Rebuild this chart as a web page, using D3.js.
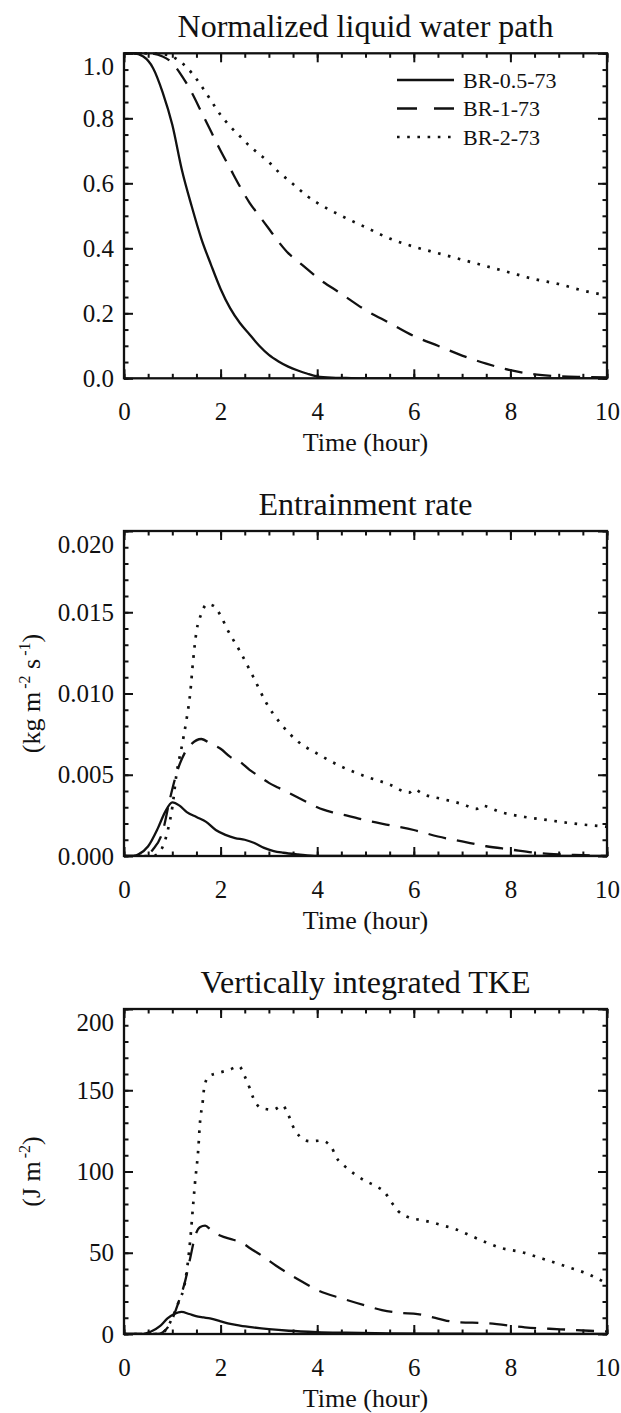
<!DOCTYPE html>
<html>
<head>
<meta charset="utf-8">
<script src="https://cdn.jsdelivr.net/npm/d3@7"></script>
<style>
  html, body { margin: 0; padding: 0; background: #fff; }
  svg { display: block; }
  text { font-family: "Liberation Serif", "Times New Roman", serif; fill: #111; }
</style>
</head>
<body>
<svg id="fig" width="621" height="1413"></svg>
<script>
// ---- Series names ----
const seriesNames = ["BR-0.5-73", "BR-1-73", "BR-2-73"];

// ---- Normalized liquid water path ----
const lwpTime05 = [0, 0.2, 0.4, 0.6, 0.8, 1.0, 1.2, 1.4, 1.6, 1.8, 2.0, 2.2, 2.4, 2.6, 2.8, 3.0, 3.2, 3.4, 3.6, 3.8, 4.0, 4.3, 4.6, 5, 6, 7, 8, 9, 10];
const lwp05     = [1.0, 1.0, 0.99, 0.955, 0.88, 0.78, 0.64, 0.53, 0.43, 0.35, 0.275, 0.215, 0.17, 0.135, 0.10, 0.072, 0.052, 0.036, 0.024, 0.014, 0.006, 0.002, 0.001, 0, 0, 0, 0, 0, 0];
const lwpTime1  = [0, 0.5, 0.8, 1.0, 1.2, 1.4, 1.6, 1.8, 2.0, 2.2, 2.4, 2.6, 2.8, 3.0, 3.2, 3.4, 3.6, 3.8, 4.0, 4.5, 5.0, 5.5, 6.0, 6.5, 7.0, 7.5, 8.0, 8.5, 9.0, 9.5, 10];
const lwp1      = [1.0, 1.0, 0.99, 0.97, 0.93, 0.88, 0.82, 0.76, 0.70, 0.645, 0.59, 0.54, 0.50, 0.46, 0.42, 0.385, 0.36, 0.335, 0.31, 0.26, 0.21, 0.17, 0.13, 0.10, 0.07, 0.045, 0.025, 0.012, 0.006, 0.004, 0.003];
const lwpTime2  = [0, 0.5, 0.9, 1.0, 1.2, 1.4, 1.6, 1.8, 2.0, 2.2, 2.4, 2.6, 2.8, 3.0, 3.2, 3.4, 3.6, 3.8, 4.0, 4.5, 5.0, 5.5, 6.0, 6.5, 7.0, 7.5, 8.0, 8.5, 9.0, 9.5, 10];
const lwp2      = [1.0, 1.0, 0.995, 0.99, 0.97, 0.94, 0.90, 0.855, 0.81, 0.775, 0.745, 0.715, 0.69, 0.665, 0.635, 0.61, 0.585, 0.56, 0.54, 0.50, 0.465, 0.43, 0.405, 0.385, 0.365, 0.345, 0.325, 0.305, 0.29, 0.27, 0.255];

// ---- Entrainment rate (kg m-2 s-1) ----
const entTime05 = [0, 0.2, 0.3, 0.5, 0.7, 0.85, 1.0, 1.15, 1.3, 1.5, 1.7, 1.9, 2.1, 2.3, 2.5, 2.7, 2.9, 3.1, 3.3, 3.6, 4.0, 10];
const ent05     = [0, 0, 0.0001, 0.0006, 0.0017, 0.0027, 0.0033, 0.0031, 0.0027, 0.0024, 0.0021, 0.0016, 0.0013, 0.0011, 0.0010, 0.0008, 0.0005, 0.0003, 0.0002, 0.0001, 0, 0];
const entTime1  = [0, 0.4, 0.6, 0.8, 0.95, 1.1, 1.25, 1.4, 1.6, 1.8, 2.0, 2.2, 2.4, 2.6, 2.8, 3.0, 3.2, 3.4, 3.6, 3.8, 4.0, 4.3, 4.6, 5.0, 5.5, 6.0, 6.5, 7.0, 7.5, 8.0, 8.5, 9.0, 9.5, 10];
const ent1      = [0, 0, 0.0004, 0.0015, 0.0035, 0.0052, 0.0063, 0.0069, 0.0072, 0.0069, 0.0066, 0.0061, 0.0058, 0.0053, 0.0049, 0.0045, 0.0042, 0.0039, 0.0036, 0.0033, 0.0030, 0.0027, 0.0025, 0.0022, 0.0019, 0.0016, 0.0012, 0.0009, 0.0006, 0.0004, 0.0002, 0.0001, 0.00005, 0];
const entTime2  = [0, 0.6, 0.75, 0.9, 1.0, 1.09, 1.2, 1.3, 1.37, 1.43, 1.5, 1.6, 1.72, 1.85, 2.0, 2.13, 2.4, 2.68, 2.95, 3.23, 3.58, 4.0, 4.5, 5.0, 5.5, 5.9, 6.0, 6.2, 6.6, 7.0, 7.3, 7.4, 7.8, 8.3, 8.8, 9.3, 10];
const ent2      = [0, 0, 0.0003, 0.0015, 0.003, 0.0051, 0.0068, 0.0085, 0.0100, 0.0120, 0.0138, 0.0149, 0.0155, 0.0154, 0.0148, 0.0140, 0.0126, 0.0110, 0.0094, 0.0082, 0.0071, 0.0063, 0.0055, 0.0049, 0.0044, 0.0039, 0.0041, 0.0038, 0.0035, 0.0032, 0.0029, 0.0031, 0.0027, 0.0024, 0.0022, 0.0020, 0.0018];

// ---- Vertically integrated TKE (J m-2) ----
const tkeTime05 = [0, 0.4, 0.55, 0.75, 0.9, 1.05, 1.19, 1.35, 1.49, 1.65, 1.78, 2.0, 2.15, 2.4, 2.67, 3.0, 3.41, 4.0, 4.6, 5.5, 7, 10];
const tke05     = [0, 0, 1.4, 5, 9.6, 12.5, 13.6, 12.3, 11, 10.2, 9.6, 7.8, 6.5, 5.2, 4.1, 3.0, 2.0, 1.2, 0.8, 0.4, 0.2, 0];
const tkeTime1  = [0, 0.7, 0.8, 0.95, 1.12, 1.27, 1.38, 1.47, 1.57, 1.68, 1.8, 1.99, 2.26, 2.45, 2.61, 2.9, 3.15, 3.41, 3.7, 4.01, 4.52, 5.0, 5.34, 5.7, 6.08, 6.5, 6.82, 7.56, 8.3, 9.04, 9.63, 10];
const tke1      = [0, 0, 1, 6, 18.8, 33, 48, 60, 65.7, 66.7, 64, 60.6, 58, 56, 52.8, 47.3, 42, 37.1, 32, 26.9, 21.8, 17.5, 14.7, 13, 12.2, 9.5, 7.5, 6.5, 4.1, 2.9, 2.0, 1.5];
const tkeTime2  = [0, 0.75, 0.85, 1.0, 1.12, 1.27, 1.37, 1.43, 1.47, 1.54, 1.57, 1.63, 1.66, 1.75, 1.95, 2.19, 2.38, 2.5, 2.6, 2.68, 2.85, 3.09, 3.28, 3.4, 3.5, 3.64, 3.85, 4.09, 4.3, 4.4, 4.58, 4.78, 4.99, 5.2, 5.4, 5.54, 5.68, 5.89, 6.13, 6.37, 6.61, 6.85, 7.1, 7.49, 7.8, 8.23, 8.67, 9.19, 9.6, 10];
const tke2      = [0, 0, 2, 10, 18.8, 33, 57.5, 79, 93, 114.6, 129, 143, 151.5, 158.5, 160.6, 162.7, 164.8, 158.5, 151.5, 145, 139, 138, 140.7, 135, 127.7, 121.6, 118.6, 119, 114.6, 108.5, 103, 98.3, 94.3, 91.2, 87.1, 81, 75.5, 71.8, 70.2, 68.7, 66.7, 64.7, 61.5, 56.5, 53, 50.4, 46.3, 41.2, 37, 31];

// ---- Axis ticks ----
const xMajor = [0, 2, 4, 6, 8, 10];
const xMinor = d3.range(0, 10.001, 0.5);
const lwpMajor = [0, 0.2, 0.4, 0.6, 0.8, 1.0];
const lwpMinor = d3.range(0, 1.0001, 0.05);
const entMajor = [0, 0.005, 0.010, 0.015, 0.020];
const entMinor = d3.range(0, 0.02001, 0.001);
const tkeMajor = [0, 50, 100, 150, 200];
const tkeMinor = d3.range(0, 200.1, 10);

// ---- Layout ----
const W = 621, H = 1413;
const plotLeft = 124, plotRight = 607, plotH = 325;
const panelTops = [53.3, 531, 1009];
const FONT = '"Liberation Serif", "Times New Roman", serif';
const labelFont = 25, titleFont = 32, legendFont = 22;
const majorLen = 9, minorLen = 4.5;

const styles = [
  { dash: null, width: 2.3 },
  { dash: "18,11", width: 2.3 },
  { dash: "2.6,7.6", width: 2.7 }
];

const svg = d3.select("#fig");
svg.append("rect").attr("width", W).attr("height", H).attr("fill", "#fff");

const x = d3.scaleLinear().domain([0, 10]).range([plotLeft, plotRight]);

const panels = [
  {
    title: "Normalized liquid water path",
    domain: [0, 1.0], major: lwpMajor, minor: lwpMinor, fmt: d3.format(".1f"),
    series: [[lwpTime05, lwp05], [lwpTime1, lwp1], [lwpTime2, lwp2]],
    yTitle: null, legend: true
  },
  {
    title: "Entrainment rate",
    domain: [0, 0.020], major: entMajor, minor: entMinor, fmt: d3.format(".3f"),
    series: [[entTime05, ent05], [entTime1, ent1], [entTime2, ent2]],
    yTitle: [["(kg m", 0], ["-2", 1], [" s", 0], ["-1", 1], [")", 0]], legend: false
  },
  {
    title: "Vertically integrated TKE",
    domain: [0, 200], major: tkeMajor, minor: tkeMinor, fmt: d3.format("d"),
    series: [[tkeTime05, tke05], [tkeTime1, tke1], [tkeTime2, tke2]],
    yTitle: [["(J m", 0], ["-2", 1], [")", 0]], legend: false
  }
];

function styleAxis(g) {
  g.attr("font-family", FONT);
  g.select(".domain").remove();
  g.selectAll("line").attr("stroke", "#111").attr("stroke-width", 2);
  g.selectAll("text").attr("font-size", labelFont).attr("fill", "#111").style("font-family", FONT);
}

panels.forEach((p, i) => {
  const top = panelTops[i], bottom = top + plotH;
  const y = d3.scaleLinear().domain(p.domain).range([bottom, top]);
  const g = svg.append("g").style("font-family", FONT);

  // clip region for the curves
  const clipId = "clip" + i;
  svg.append("clipPath").attr("id", clipId)
    .append("rect").attr("x", plotLeft).attr("y", top - 2)
    .attr("width", plotRight - plotLeft).attr("height", plotH + 2);

  // minor ticks on all four sides
  g.append("g").attr("transform", `translate(0,${bottom})`)
    .call(d3.axisBottom(x).tickValues(xMinor).tickSize(-minorLen).tickFormat("")).call(styleAxis);
  g.append("g").attr("transform", `translate(0,${top})`)
    .call(d3.axisTop(x).tickValues(xMinor).tickSize(-minorLen).tickFormat("")).call(styleAxis);
  g.append("g").attr("transform", `translate(${plotLeft},0)`)
    .call(d3.axisLeft(y).tickValues(p.minor).tickSize(-minorLen).tickFormat("")).call(styleAxis);
  g.append("g").attr("transform", `translate(${plotRight},0)`)
    .call(d3.axisRight(y).tickValues(p.minor).tickSize(-minorLen).tickFormat("")).call(styleAxis);

  // major ticks + labels
  g.append("g").attr("transform", `translate(0,${bottom})`)
    .call(d3.axisBottom(x).tickValues(xMajor).tickSize(-majorLen).tickPadding(24).tickFormat(d3.format("d")))
    .call(styleAxis);
  g.append("g").attr("transform", `translate(0,${top})`)
    .call(d3.axisTop(x).tickValues(xMajor).tickSize(-majorLen).tickFormat("")).call(styleAxis);
  const yl = g.append("g").attr("transform", `translate(${plotLeft},0)`)
    .call(d3.axisLeft(y).tickValues(p.major).tickSize(-majorLen).tickPadding(10).tickFormat(p.fmt))
    .call(styleAxis);
  // the top label sits just under the frame
  yl.selectAll(".tick").filter(d => d === p.domain[1]).select("text")
    .attr("transform", "translate(0,13)");
  g.append("g").attr("transform", `translate(${plotRight},0)`)
    .call(d3.axisRight(y).tickValues(p.major).tickSize(-majorLen).tickFormat("")).call(styleAxis);

  // curves
  const line = d3.line().x(d => x(d[0])).y(d => y(d[1])).curve(d3.curveMonotoneX);
  p.series.forEach((s, k) => {
    const pts = s[0].map((t, j) => [t, s[1][j]]);
    g.append("path").datum(pts)
      .attr("clip-path", `url(#${clipId})`)
      .attr("d", line)
      .attr("fill", "none")
      .attr("stroke", "#111")
      .attr("stroke-width", styles[k].width)
      .attr("stroke-dasharray", styles[k].dash)
      .attr("stroke-linejoin", "round");
  });

  // frame
  g.append("rect").attr("x", plotLeft).attr("y", top)
    .attr("width", plotRight - plotLeft).attr("height", plotH)
    .attr("fill", "none").attr("stroke", "#111").attr("stroke-width", 2.3);

  // title
  g.append("text").attr("x", (plotLeft + plotRight) / 2).attr("y", top - 16)
    .attr("text-anchor", "middle").attr("font-size", titleFont).text(p.title);

  // x axis title
  g.append("text").attr("x", (plotLeft + plotRight) / 2).attr("y", bottom + 73)
    .attr("text-anchor", "middle").attr("font-size", 26).text("Time (hour)");

  // y axis title with superscripts
  if (p.yTitle) {
    const yt = g.append("text")
      .attr("transform", `translate(40,${(top + bottom) / 2}) rotate(-90)`)
      .attr("text-anchor", "middle").attr("font-size", 26);
    p.yTitle.forEach(([txt, sup], j) => {
      const ts = yt.append("tspan").text(txt);
      if (sup) ts.attr("font-size", 16).attr("dy", -10).attr("dx", 3);
      else if (j > 0 && p.yTitle[j - 1][1]) ts.attr("dy", 10);
    });
  }

  // legend
  if (p.legend) {
    const lx0 = 397, lx1 = 454, ly0 = 80, step = 28.5;
    seriesNames.forEach((name, k) => {
      const yy = ly0 + k * step;
      g.append("line").attr("x1", lx0).attr("x2", lx1).attr("y1", yy).attr("y2", yy)
        .attr("stroke", "#111").attr("stroke-width", styles[k].width)
        .attr("stroke-dasharray", k === 1 ? "20,17" : styles[k].dash);
      g.append("text").attr("x", lx1 + 9).attr("y", yy).attr("dy", "0.35em")
        .attr("font-size", legendFont).text(name);
    });
  }
});
</script>
</body>
</html>
